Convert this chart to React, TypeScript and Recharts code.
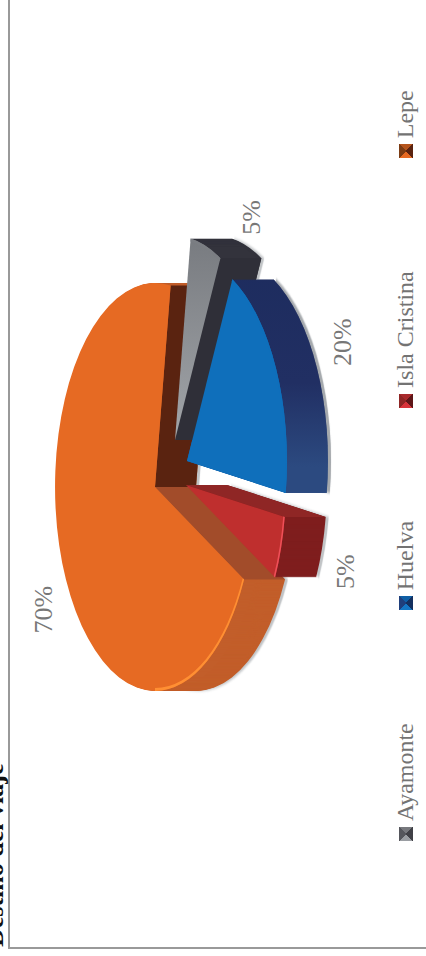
import { Legend, Pie, PieChart, Sector } from "recharts";

const categories = ["Lepe", "Isla Cristina", "Huelva", "Ayamonte"];
const shares = [70, 5, 20, 5];
const chartData = categories.map((name, i) => ({ name, value: shares[i] }));

// slice look, same order as categories
const topFill = ["#e66a23", "#bf2f2e", "#0f6fbb", "url(#grayTop)"];
const wallFill = ["#c25e2a", "#7f1e1e", "url(#blueWall)", "#33333c"];
const startEdgeFill = ["#5a2310", "#7f1e1e", "#1f2d5e", "#2f2f38"];
const endEdgeFill = ["#a24c2a", "#8f2625", "#1f2d5e", "#33333c"];
const rimFill = ["#ff8f33", "#ef4f58", "#0f6fbb", "#7b7e83"];
const legendFaces = [
  ["#7c3c14", "#e66a23", "#5a2310", "#b5541c"],
  ["#8f2625", "#d8333a", "#5e1618", "#a92a2c"],
  ["#1f3f7c", "#1577c4", "#14305f", "#0f5fa5"],
  ["#55565c", "#9a9da2", "#404046", "#77787d"],
];
// explode offset of each slice, in the chart's own (unrotated) axes
const explodeX = [0, 2, 26, 47];
const explodeY = [0, 31, 32, 20];
const labelRadius = [270, 280, 262, 234];
const labelLift = [6, 29, 41, 41];

const W = 956;
const H = 426;
const PIE_X = 469;
const PIE_Y = 155;
const RADIUS = 204;
const TILT = 0.49;
const DEPTH = 41;
const RAD = Math.PI / 180;

function indexOfSlice(props: any) {
  return categories.indexOf(props.name ?? props.payload?.name);
}

function Slice(props: any) {
  const { cx, cy, outerRadius, startAngle, endAngle } = props;
  const i = indexOfSlice(props);
  const dx = explodeX[i];
  const dy = explodeY[i];
  const oval = `translate(${cx} ${cy}) scale(1 ${TILT}) translate(${-cx} ${-cy})`;
  const sector = (fill: string, inner = 0, from = startAngle, to = endAngle) => (
    <Sector cx={cx} cy={cy} innerRadius={inner} outerRadius={outerRadius} startAngle={from} endAngle={to} fill={fill} stroke="none" />
  );
  const edge = (angle: number, fill: string) => {
    const px = cx + Math.cos(angle * RAD) * outerRadius;
    const py = cy - Math.sin(angle * RAD) * outerRadius * TILT;
    return <polygon points={`${cx},${cy} ${px},${py} ${px},${py + DEPTH} ${cx},${cy + DEPTH}`} fill={fill} />;
  };
  const layers = [];
  for (let d = DEPTH; d > 0; d--) {
    layers.push(
      <g key={d} transform={`translate(0 ${d}) ${oval}`}>
        {sector(wallFill[i])}
      </g>
    );
  }
  const rimFrom = Math.max(startAngle, 180);
  return (
    <g transform={`translate(${dx} ${dy})`}>
      <g transform={`translate(0 ${DEPTH + 3}) ${oval}`} style={{ filter: "blur(1.5px)" }} opacity={0.55}>
        {sector("#8f9499")}
      </g>
      {layers}
      {Math.cos(startAngle * RAD) > 0 && edge(startAngle, startEdgeFill[i])}
      {Math.cos(endAngle * RAD) < 0 && edge(endAngle, endEdgeFill[i])}
      <g transform={oval}>
        {sector(topFill[i])}
        {endAngle > rimFrom && sector(rimFill[i], outerRadius - 3, rimFrom, endAngle)}
      </g>
    </g>
  );
}

// blue sits in front of the gray slice's wall, so it is painted once more on top
function BlueOnly(props: any) {
  return indexOfSlice(props) === 2 ? <Slice {...props} /> : <g />;
}

function SliceLabel(props: any) {
  const { cx, cy, midAngle, value, name } = props;
  const i = categories.indexOf(name);
  const x = cx + explodeX[i] + Math.cos(midAngle * RAD) * labelRadius[i];
  const y = cy + explodeY[i] - Math.sin(midAngle * RAD) * labelRadius[i] * TILT + labelLift[i];
  return (
    <text x={x} y={y} textAnchor="middle" dominantBaseline="central" fontFamily="Liberation Serif" fontSize={26} fill="#777">
      {value}%
    </text>
  );
}

function LegendRow({ payload }: any) {
  const items = [...(payload ?? [])].filter((p: any) => p.type !== "none");
  return (
    <div style={{ display: "flex", gap: 113, alignItems: "center", fontFamily: "Liberation Serif", fontSize: 24, color: "#737373", whiteSpace: "nowrap" }}>
      {items.map((item: any) => {
        const f = legendFaces[categories.indexOf(item.value)];
        return (
          <span key={item.value} style={{ display: "flex", alignItems: "center", gap: 6 }}>
            <span
              style={{
                width: 14,
                height: 14,
                background: `conic-gradient(${f[0]} 0 45deg, ${f[3]} 45deg 135deg, ${f[2]} 135deg 225deg, ${f[1]} 225deg 315deg, ${f[0]} 315deg)`,
              }}
            />
            {item.value}
          </span>
        );
      })}
    </div>
  );
}

export default function App() {
  return (
    <div style={{ position: "absolute", left: 0, top: 0, width: 426, height: 956, overflow: "hidden", background: "#fff" }}>
      <div style={{ position: "absolute", left: 0, top: 0, width: W, height: H, transformOrigin: "0 0", transform: `translateY(${W}px) rotate(-90deg)` }}>
        <div style={{ position: "absolute", left: 7, top: 8, width: W, height: H, borderLeft: "2px solid #999", borderTop: "2px solid #999" }} />
        <div style={{ position: "absolute", left: 9, top: -23, fontFamily: "Liberation Serif", fontWeight: 700, fontSize: 26, lineHeight: "36px", color: "#111" }}>
          Destino del viaje
        </div>
        <div style={{ position: "absolute", left: 0, top: 0 }}>
          <PieChart width={W} height={H} margin={{ top: 0, right: 0, bottom: 0, left: 0 }}>
            <defs>
              <linearGradient id="blueWall" gradientUnits="userSpaceOnUse" x1="674" y1="0" x2="463" y2="0">
                <stop offset="0" stopColor="#1d2c5e" />
                <stop offset="0.6" stopColor="#212f63" />
                <stop offset="1" stopColor="#2c4a80" />
              </linearGradient>
              <linearGradient id="grayTop" gradientUnits="userSpaceOnUse" x1="469" y1="0" x2="700" y2="0">
                <stop offset="0" stopColor="#a2a5a9" />
                <stop offset="1" stopColor="#72757a" />
              </linearGradient>
            </defs>
            <Pie
              data={chartData}
              dataKey="value"
              nameKey="name"
              cx={PIE_X}
              cy={PIE_Y}
              outerRadius={RADIUS}
              startAngle={-9}
              endAngle={351}
              shape={Slice}
              label={SliceLabel}
              labelLine={false}
              stroke="none"
              isAnimationActive={false}
            />
            <Pie
              data={chartData}
              dataKey="value"
              nameKey="name"
              cx={PIE_X}
              cy={PIE_Y}
              outerRadius={RADIUS}
              startAngle={-9}
              endAngle={351}
              shape={BlueOnly}
              legendType="none"
              stroke="none"
              isAnimationActive={false}
            />
            <Legend content={<LegendRow />} wrapperStyle={{ left: 115, top: 392, bottom: "auto", width: "auto" }} />
          </PieChart>
        </div>
      </div>
    </div>
  );
}
